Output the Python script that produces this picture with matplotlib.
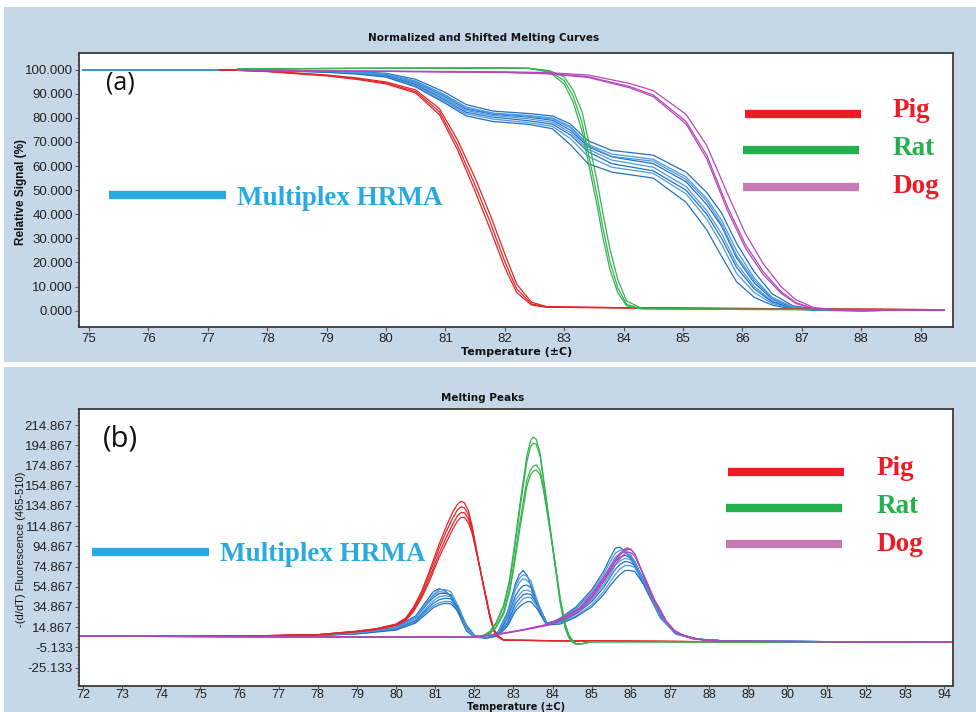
import numpy as np
import matplotlib
matplotlib.use("Agg")
from matplotlib import pyplot as plt
from matplotlib.patches import Rectangle
from matplotlib.ticker import AutoMinorLocator, MultipleLocator, FixedLocator

# ---- normalized melting curves (top panel) ----
pig_t = [77.2, 78.0, 79.0, 79.5, 80.0, 80.5, 80.9, 81.2, 81.5, 81.75, 82.0, 82.2, 82.45, 82.7, 84.0, 86.0, 88.0, 89.4]
pig_sig = [
    [100, 99.3, 97.6, 96.3, 94.5, 90.9, 82.5, 68.8, 52.0, 36.9, 20.3, 9.0, 2.8, 1.5, 1.2, 0.9, 0.6, 0.4],
    [100, 99.4, 97.8, 96.6, 94.9, 91.6, 83.8, 71.0, 55.0, 40.0, 23.5, 11.0, 3.5, 1.7, 1.2, 0.9, 0.6, 0.4],
    [100, 99.2, 97.4, 96.0, 94.1, 90.3, 81.3, 67.0, 49.5, 34.0, 17.8, 7.5, 2.3, 1.4, 1.1, 0.8, 0.5, 0.4],
]

rat_t = [77.5, 80.0, 82.0, 82.4, 82.75, 83.0, 83.15, 83.3, 83.45, 83.55, 83.65, 83.77, 83.9, 84.05, 84.3, 86.0, 89.4]
rat_sig = [
    [100.3, 100.6, 100.7, 100.6, 99.3, 95.5, 89.0, 78.0, 60.0, 48.0, 34.5, 20.3, 9.5, 2.6, 0.8, 0.5, 0.4],
    [100.3, 100.6, 100.7, 100.6, 99.6, 97.0, 91.5, 82.5, 66.0, 54.0, 40.5, 25.5, 13.0, 4.0, 1.0, 0.5, 0.4],
    [100.3, 100.6, 100.7, 100.5, 99.0, 94.0, 86.5, 74.5, 56.0, 44.0, 30.5, 17.0, 7.5, 2.0, 0.7, 0.5, 0.4],
]

dog_t = [77.5, 80.0, 82.0, 82.7, 83.4, 84.1, 84.5, 85.05, 85.4, 85.75, 86.05, 86.35, 86.65, 86.9, 87.2, 87.6, 89.4]
dog_sig = [
    [99.7, 99.3, 98.9, 98.5, 97.1, 93.0, 89.5, 78.5, 64.5, 43.0, 27.5, 16.2, 7.9, 3.3, 0.8, 0.2, 0.3],
    [99.7, 99.4, 99.1, 98.8, 97.8, 94.3, 91.3, 81.5, 68.5, 48.5, 32.0, 19.5, 10.0, 4.5, 1.3, 0.3, 0.3],
    [99.7, 99.3, 98.8, 98.3, 96.8, 92.5, 88.8, 77.5, 63.0, 41.5, 26.0, 15.0, 7.2, 3.0, 0.7, 0.2, 0.3],
]

multi_t = [74.9, 77.0, 78.0, 79.0, 79.5, 80.0, 80.5, 81.0, 81.35, 81.8, 82.4, 82.8, 83.1, 83.4, 83.8, 84.5,
           85.05, 85.4, 85.65, 85.9, 86.2, 86.5, 86.85, 87.3, 88.0, 89.4]
multi_sig = [
    [100, 100, 99.9, 99.5, 99.1, 98.5, 96.0, 90.5, 85.5, 82.8, 81.8, 80.8, 77.5, 70.5, 66.5, 64.5, 57.5, 49.0, 40.5, 28.0, 16.0, 7.0, 2.0, 0.4, 0.0, 0.4],
    [100, 100, 99.9, 99.4, 99.0, 98.2, 95.3, 89.5, 84.5, 82.0, 81.0, 80.0, 76.5, 69.0, 65.0, 62.8, 55.5, 46.5, 37.5, 25.0, 13.5, 5.5, 1.5, 0.3, 0.0, 0.4],
    [100, 100, 99.8, 99.3, 98.8, 97.9, 94.7, 88.7, 83.6, 81.5, 80.3, 79.0, 75.0, 68.0, 63.8, 61.0, 53.5, 44.0, 35.0, 22.0, 11.5, 4.8, 1.2, 0.2, 0.0, 0.4],
    [100, 100, 99.8, 99.2, 98.7, 97.7, 94.3, 88.0, 83.0, 81.0, 79.6, 78.2, 74.0, 67.0, 62.5, 59.5, 51.5, 41.5, 32.0, 19.5, 10.0, 4.0, 1.0, 0.2, 0.0, 0.4],
    [100, 100, 99.8, 99.1, 98.5, 97.4, 93.8, 87.3, 82.3, 80.3, 78.8, 77.4, 73.0, 66.0, 61.0, 58.0, 50.0, 40.0, 30.0, 18.0, 9.0, 3.6, 0.9, 0.2, 0.0, 0.4],
    [100, 100, 99.7, 99.0, 98.4, 97.2, 93.3, 86.6, 81.6, 79.5, 78.0, 76.5, 71.5, 64.0, 59.5, 57.0, 48.5, 38.0, 27.5, 15.5, 7.5, 3.0, 0.8, 0.1, 0.0, 0.4],
    [100, 100, 99.7, 98.9, 98.2, 96.9, 92.8, 86.0, 80.8, 78.5, 77.3, 75.5, 69.0, 61.0, 57.5, 55.0, 45.0, 33.5, 22.5, 12.0, 5.5, 2.3, 0.6, 0.1, 0.0, 0.4],
    [100, 100, 99.8, 99.3, 98.8, 98.0, 95.0, 89.0, 84.0, 81.8, 80.6, 79.5, 76.0, 68.5, 64.0, 62.0, 54.5, 45.5, 36.0, 23.0, 12.5, 5.2, 1.3, 0.3, 0.0, 0.4],
]

# ---- melting peaks (bottom panel) ----
pig_dt = [71.9, 76.0, 78.0, 79.0, 79.5, 80.0, 80.25, 80.45, 80.65, 80.85, 81.1, 81.3, 81.45, 81.57, 81.66, 81.75,
          81.85, 81.95, 82.1, 82.25, 82.4, 82.5, 82.6, 82.75, 84.0, 88.0, 94.2]
pig_peak = [
    [6, 6, 7.5, 11, 13.5, 18, 24, 35, 50, 70, 97, 116, 129, 136.5, 139.5, 138, 130, 114, 82, 52, 24, 11, 5, 2, 1.5, 0.5, 0],
    [6, 6, 7.5, 10.8, 13.2, 17.5, 23, 33.5, 48, 67, 93, 111, 123, 131, 134, 133, 126, 111, 82, 53, 25, 12, 5.5, 2, 1.5, 0.5, 0],
    [6, 6, 7.3, 10.5, 12.8, 17, 22, 32, 45.5, 63, 88, 105, 117, 125, 128.5, 128, 122, 109, 81, 53, 26, 12.5, 6, 2, 1.5, 0.5, 0],
    [6, 6, 7.2, 10.3, 12.5, 16.5, 21.5, 30.5, 43.5, 60, 84, 100, 112, 120, 123.5, 123.5, 118, 107, 81, 54, 27, 13, 6.5, 2.2, 1.5, 0.5, 0],
]

rat_dt = [71.9, 76.0, 80.0, 82.0, 82.25, 82.4, 82.55, 82.75, 82.9, 83.0, 83.17, 83.34, 83.43, 83.5, 83.58, 83.68,
          83.76, 83.85, 84.02, 84.19, 84.32, 84.42, 84.5, 84.6, 84.75, 85.0, 88.0, 94.2]
rat_peak = [
    [6, 5.5, 5, 5, 7, 11, 19, 37, 62, 89, 138, 184, 199, 203, 201, 187, 165, 138, 89, 40, 14, 4, 0, -2, -1.5, 0.5, 0.5, 0],
    [6, 5.5, 5, 5, 6.8, 10, 18, 35, 59, 85, 133, 178, 193, 197, 196, 184, 163, 137, 89, 41, 15, 5, 1, -2, -1.5, 0.5, 0.5, 0],
    [6, 5.5, 5, 5, 6.5, 9, 15, 30, 52, 75, 120, 160, 170, 174, 175.5, 170, 155, 133, 90, 44, 17, 6, 2, -1.5, -1.5, 0.5, 0.5, 0],
    [6, 5.5, 5, 5, 6.3, 8.5, 14, 28, 49, 71, 114, 154, 165, 169, 170.5, 166, 152, 131, 89, 44, 18, 7, 2.5, -1.5, -1.5, 0.5, 0.5, 0],
]

dog_dt = [71.9, 76.0, 80.0, 82.0, 82.6, 83.2, 83.85, 84.3, 84.7, 85.05, 85.3, 85.55, 85.68, 85.8, 85.9, 86.0, 86.1,
          86.2, 86.4, 86.6, 86.75, 86.9, 87.1, 87.35, 87.6, 88.2, 94.2]
dog_peak = [
    [6, 5.5, 5, 5, 8, 12, 17.6, 25, 34, 50, 64, 79, 86, 91, 93.5, 92, 87, 77, 58, 40, 30, 20, 11, 6, 3, 1, 0],
    [6, 5.5, 5, 5, 8, 12, 17, 24, 33, 48, 62, 77, 84.5, 89.5, 92, 91.5, 87.5, 78, 60, 42, 32, 21, 12, 6.5, 3.5, 1, 0],
    [6, 5.5, 5, 5, 7.5, 11.5, 16.5, 23, 31, 46, 60, 74, 81, 86, 89, 88.5, 85, 77, 60, 42, 32, 21, 12, 6.5, 3.5, 1, 0],
]

multi_dt = [71.9, 76.0, 78.0, 79.0, 80.0, 80.5, 80.8, 80.95, 81.1, 81.25, 81.4, 81.6, 81.8, 82.0, 82.3, 82.6,
            82.85, 83.05, 83.15, 83.25, 83.35, 83.45, 83.65, 83.85, 84.2, 84.6, 85.0, 85.3, 85.45, 85.6, 85.72,
            85.85, 85.97, 86.1, 86.35, 86.75, 87.15, 87.7, 88.5, 94.2]
multi_peak = [
    [6, 6, 7, 9, 15, 26, 42, 50, 53, 51, 45, 28, 11, 5, 4, 10, 30, 58, 67, 71, 66, 55, 30, 17, 24, 35, 52, 70, 82, 93, 94, 90, 84, 75, 55, 24, 8, 3, 1, 0],
    [6, 6, 7, 9, 14.5, 25, 40, 46, 50, 49.5, 46, 31, 13, 5.5, 4, 9, 27, 52, 59, 63, 61, 57, 35, 18, 23, 33, 48, 64, 74, 84, 88, 89, 86, 80, 58, 25, 8, 3, 1, 0],
    [6, 6, 7, 8.8, 14, 24, 38, 44, 48, 48.5, 47, 33, 15, 6, 4, 8, 24, 46, 52, 56, 56.5, 54, 36, 19, 22, 31, 45, 60, 70, 80, 84, 86, 84, 79, 60, 26, 8.5, 3, 1, 0],
    [6, 6, 7, 8.7, 13.5, 22, 35, 41, 45, 46, 45, 34, 16, 6.5, 4, 7.5, 21, 42, 47, 51, 51.5, 50, 36, 19, 21, 29, 42, 57, 66, 76, 80.5, 83, 82, 78, 60, 27, 9, 3, 1, 0],
    [6, 6, 6.8, 8.5, 13, 21, 33, 38.5, 42, 43.5, 43, 33, 17, 7, 4, 7, 19, 38, 43, 47, 48, 47, 35, 19, 20, 28, 40, 54, 63, 72, 77, 80, 79, 76, 59, 27, 9, 3, 1, 0],
    [6, 6, 6.8, 8.3, 12.5, 20, 31, 36, 39, 40.5, 40, 31, 16, 6.5, 4, 6.5, 17, 34, 39, 43, 44.5, 44, 33, 18, 19, 26, 37, 50, 58.5, 67, 72.5, 76, 76, 74, 58, 27, 9, 3, 1, 0],
    [6, 6, 6.8, 8.2, 12, 19, 29, 34, 37, 38.5, 38, 30, 15, 6, 4, 6, 16, 31, 35, 38, 40, 40, 31, 17, 18, 25, 35, 47, 55, 62, 67, 71, 71, 70, 56, 26, 9, 3, 1, 0],
    [6, 6, 7, 8.9, 14.2, 24.5, 39, 47, 52, 52, 50, 35, 15, 6, 4, 9.5, 28, 55, 63, 67, 65, 60, 36, 18, 23, 34, 50, 67, 78, 88, 91, 92, 88, 80, 58, 25, 8, 3, 1, 0],
]

top_yticks = [0, 10, 20, 30, 40, 50, 60, 70, 80, 90, 100]
bot_yticks = [-25.133, -5.133, 14.867, 34.867, 54.867, 74.867, 94.867, 114.867, 134.867, 154.867, 174.867, 194.867, 214.867]
species = ["Pig", "Rat", "Dog"]

# colours
c_pig, c_rat, c_dog = "#e3262a", "#35b34f", "#b448bb"
c_blue = ["#2470c4", "#4a9ade"]
leg_cols = ["#ed1c24", "#22b14c", "#c77bb3"]
txt_cols = ["#ed1c24", "#22b14c", "#ed1c24"]
c_multi = "#29abe2"
bg = "#c6d7e7"

tick_font = ["Liberation Sans Narrow", "Liberation Sans"]
serif = "Liberation Serif"

fig = plt.figure(figsize=(9.76, 7.12), dpi=100)
fig.patch.set_facecolor("white")
fig.add_artist(Rectangle((4 / 976, 1 - 362 / 712), 972 / 976, 355 / 712, transform=fig.transFigure,
                         facecolor=bg, edgecolor="none", zorder=0))
fig.add_artist(Rectangle((4 / 976, 0), 972 / 976, 345 / 712, transform=fig.transFigure,
                         facecolor=bg, edgecolor="none", zorder=0))

ax1 = fig.add_axes([0.0809, 0.5407, 0.8952, 0.3848])
ax2 = fig.add_axes([0.0809, 0.037, 0.8952, 0.389])

for ax in (ax1, ax2):
    ax.set_facecolor("white")
    for s in ax.spines.values():
        s.set_color("#3a3a3a")
        s.set_linewidth(1.3)
    ax.tick_params(axis="both", which="major", length=3, width=0.8, color="#555555", pad=1.5,
                   labelsize=9.5, labelcolor="#222222")
    ax.tick_params(axis="y", which="minor", length=1.5, width=0.6, color="#777777")
ax2.tick_params(axis="x", pad=0, length=2.5, labelsize=9)

# top panel
for i, ys in enumerate(multi_sig):
    ax1.plot(multi_t, ys, color=c_blue[i % 2], lw=0.9)
for ys in pig_sig:
    ax1.plot(pig_t, ys, color=c_pig, lw=0.9)
for ys in rat_sig:
    ax1.plot(rat_t, ys, color=c_rat, lw=0.9)
for ys in dog_sig:
    ax1.plot(dog_t, ys, color=c_dog, lw=0.9)

ax1.set_xlim(74.83, 89.54)
ax1.set_ylim(-6.8, 106.9)
ax1.xaxis.set_major_locator(MultipleLocator(1))
ax1.yaxis.set_major_locator(FixedLocator(top_yticks))
ax1.yaxis.set_minor_locator(AutoMinorLocator(5))
ax1.set_yticklabels([f"{v:.3f}" for v in top_yticks], family=tick_font)
ax1.set_xticklabels([f"{v:.0f}" for v in ax1.get_xticks()], family=tick_font)

# bottom panel
for i, ys in enumerate(multi_peak):
    ax2.plot(multi_dt, ys, color=c_blue[i % 2], lw=0.9)
for ys in pig_peak:
    ax2.plot(pig_dt, ys, color=c_pig, lw=0.9)
for ys in rat_peak:
    ax2.plot(rat_dt, ys, color=c_rat, lw=0.9)
for ys in dog_peak:
    ax2.plot(dog_dt, ys, color=c_dog, lw=0.9)

ax2.set_xlim(71.9, 94.22)
ax2.set_ylim(-43.0, 231.1)
ax2.xaxis.set_major_locator(MultipleLocator(1))
ax2.yaxis.set_major_locator(FixedLocator(bot_yticks))
ax2.yaxis.set_minor_locator(AutoMinorLocator(5))
ax2.set_yticklabels([f"{v:.3f}" for v in bot_yticks], family=tick_font)
ax2.set_xticklabels([f"{v:.0f}" for v in ax2.get_xticks()], family=tick_font)

# titles / axis labels
fig.text(0.495, 0.9466, "Normalized and Shifted Melting Curves", ha="center", va="center",
         fontsize=7.5, fontweight="bold", family="DejaVu Sans", color="#111111")
fig.text(0.495, 0.4414, "Melting Peaks", ha="center", va="center",
         fontsize=7.5, fontweight="bold", family="DejaVu Sans", color="#111111")
fig.text(0.529, 0.506, "Temperature (±C)", ha="center", va="center",
         fontsize=8, fontweight="bold", family="DejaVu Sans", color="#111111")
fig.text(0.529, 0.0005, "Temperature (±C)", ha="center", va="bottom",
         fontsize=7, fontweight="bold", family="DejaVu Sans", color="#111111")
fig.text(0.022, 0.731, "Relative Signal (%)", rotation=90, ha="center", va="center",
         fontsize=8.5, fontweight="bold", family="Liberation Sans", color="#111111")
fig.text(0.022, 0.229, "-(d/dT) Fluorescence (465-510)", rotation=90, ha="center", va="center",
         fontsize=8, family=tick_font, color="#111111")

# panel letters
ax1.text(0.047, 0.891, "(a)", transform=ax1.transAxes, ha="center", va="center",
         fontsize=18, family="Open Sans", color="#111111")
ax2.text(0.048, 0.892, "(b)", transform=ax2.transAxes, ha="center", va="center",
         fontsize=21, family="Open Sans", color="#111111")

# hand-drawn legends
def draw_legend(ax, multi_line, multi_text, lines, texts):
    ax.plot(multi_line[:2], [multi_line[2]] * 2, transform=ax.transAxes, color=c_multi, lw=6,
            solid_capstyle="butt", clip_on=False)
    ax.text(multi_text[0], multi_text[1], "Multiplex HRMA", transform=ax.transAxes, ha="left",
            va="baseline", fontsize=19.5, fontweight="bold", family=serif, color=c_multi)
    for k in range(3):
        x0, x1, y = lines[k]
        ax.plot([x0, x1], [y, y], transform=ax.transAxes, color=leg_cols[k], lw=6,
                solid_capstyle="butt", clip_on=False)
        tx, ty = texts[k]
        ax.text(tx, ty, species[k], transform=ax.transAxes, ha="left", va="baseline",
                fontsize=19.5, fontweight="bold", family=serif, color=txt_cols[k])

draw_legend(ax1, (0.0343, 0.1683, 0.482), (0.181, 0.445),
            [(0.7623, 0.8951, 0.777), (0.760, 0.893, 0.646), (0.760, 0.893, 0.511)],
            [(0.9317, 0.766), (0.9317, 0.628), (0.9317, 0.489)])
draw_legend(ax2, (0.0149, 0.1488, 0.482), (0.1614, 0.449),
            [(0.7428, 0.8756, 0.771), (0.7405, 0.8733, 0.6425), (0.7405, 0.8733, 0.512)],
            [(0.913, 0.760), (0.913, 0.625), (0.913, 0.487)])

fig.savefig("out.png", dpi=100)
